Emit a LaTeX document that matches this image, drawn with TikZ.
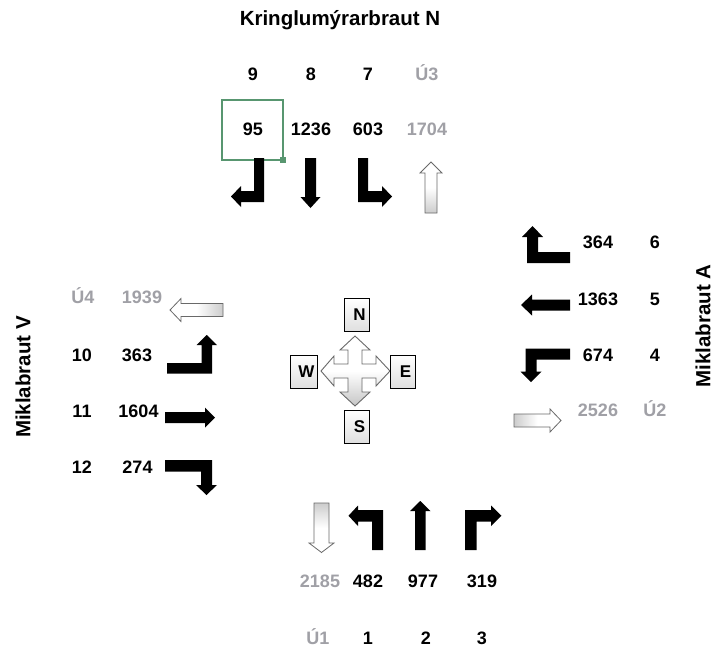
\documentclass[tikz,border=0pt]{standalone}
\usepackage{fontspec}
\setmainfont{Liberation Sans}
\definecolor{dimtext}{RGB}{160,160,166}
\definecolor{selgreen}{RGB}{88,150,112}
\definecolor{outlinegray}{RGB}{105,105,105}
\begin{document}
\begin{tikzpicture}[x=1pt,y=-1pt,
  lbl/.style={font=\bfseries\fontsize{18}{20}\selectfont, anchor=base, inner sep=0pt},
  dim/.style={lbl, text=dimtext},
  road/.style={font=\bfseries\fontsize{20.5}{24}\selectfont, inner sep=0pt},
  solidarrow/.style={fill=black},
  exitarrow/.style={draw=outlinegray, line width=0.8pt, line join=miter},
  compassbox/.style={draw=black, line width=0.9pt, top color=white, bottom color=gray!25},
  compassletter/.style={font=\bfseries\fontsize{17}{20}\selectfont, inner sep=0pt},
]
\useasboundingbox (0,0) rectangle (724,648);
\fill[white] (0,0) rectangle (724,648);

% road names
\node[road, anchor=base] (nameN) at (340,25) {Kringlumýrarbraut N};
\node[road, rotate=90] (nameA) at (703,326) {Miklabraut A};
\node[road, rotate=90] (nameV) at (23,377) {Miklabraut V};

% north approach
\node[lbl] (n9) at (253,80) {9};
\node[lbl] (n8) at (311,80) {8};
\node[lbl] (n7) at (368,80) {7};
\node[dim] (u3) at (427,80) {Ú3};
\node[lbl] (v9) at (253,135) {95};
\node[lbl] (v8) at (311,135) {1236};
\node[lbl] (v7) at (368,135) {603};
\node[dim] (vu3) at (427,135) {1704};
\draw[selgreen, line width=1.4pt] (222,100) rectangle (283,160);
\fill[selgreen] (280,157) rectangle (286,163);

\fill[solidarrow] (254,158) -- (264,158) -- (264,202) -- (241,202) -- (241,207)
  -- (231,196.5) -- (241,186) -- (241,191) -- (254,191) -- cycle;
\fill[solidarrow] (305,158) -- (316,158) -- (316,197) -- (320.5,197) -- (310.5,208)
  -- (300.5,197) -- (305,197) -- cycle;
\fill[solidarrow] (358,158) -- (368,158) -- (368,191) -- (382,191) -- (382,186)
  -- (392,196.5) -- (382,207) -- (382,202) -- (358,202) -- cycle;
\draw[exitarrow, bottom color=gray!40, top color=white, middle color=white]
  (425,213) -- (437,213) -- (437,173) -- (442,173) -- (431,162) -- (420,173)
  -- (425,173) -- cycle;

% east approach
\node[lbl] (v6) at (598,248) {364};
\node[lbl] (n6) at (655,248) {6};
\node[lbl] (v5) at (598,305) {1363};
\node[lbl] (n5) at (655,305) {5};
\node[lbl] (v4) at (598,361) {674};
\node[lbl] (n4) at (655,361) {4};
\node[dim] (vu2) at (598,416) {2526};
\node[dim] (u2) at (655,416) {Ú2};

\fill[solidarrow] (570,252) -- (570,263) -- (527,263) -- (527,237) -- (522,237)
  -- (532.5,226) -- (543,237) -- (538,237) -- (538,252) -- cycle;
\fill[solidarrow] (570,299.5) -- (570,310.5) -- (532,310.5) -- (532,315.5)
  -- (521,305) -- (532,294.5) -- (532,299.5) -- cycle;
\fill[solidarrow] (570,348.5) -- (570,359.5) -- (536.5,359.5) -- (536.5,371.5)
  -- (541.5,371.5) -- (531,382) -- (520.5,371.5) -- (525.5,371.5) -- (525.5,348.5) -- cycle;
\draw[exitarrow, left color=gray!40, right color=white, middle color=white]
  (514,414) -- (550,414) -- (550,409) -- (561,420.5) -- (550,432) -- (550,427)
  -- (514,427) -- cycle;

% west approach
\node[dim] (u4) at (83,303) {Ú4};
\node[dim] (vu4) at (142,303) {1939};
\node[lbl] (n10) at (82,361) {10};
\node[lbl] (v10) at (137,361) {363};
\node[lbl] (n11) at (82,417) {11};
\node[lbl] (v11) at (138.5,417) {1604};
\node[lbl] (n12) at (82,473) {12};
\node[lbl] (v12) at (137.5,473) {274};

\draw[exitarrow, right color=gray!40, left color=white, middle color=white]
  (223,303.5) -- (223,316.5) -- (181,316.5) -- (181,321.5) -- (170,310)
  -- (181,298.5) -- (181,303.5) -- cycle;
\fill[solidarrow] (167,363) -- (201.5,363) -- (201.5,345) -- (196.5,345)
  -- (206.75,335) -- (217,345) -- (212,345) -- (212,373.5) -- (167,373.5) -- cycle;
\fill[solidarrow] (165,412) -- (205,412) -- (205,407.5) -- (215,417.5)
  -- (205,427.5) -- (205,423) -- (165,423) -- cycle;
\fill[solidarrow] (165,460) -- (212,460) -- (212,485) -- (217,485) -- (206.5,495)
  -- (196,485) -- (201,485) -- (201,471.5) -- (165,471.5) -- cycle;

% south approach
\node[dim] (vu1) at (320,587) {2185};
\node[lbl] (v1) at (368,587) {482};
\node[lbl] (v2) at (423,587) {977};
\node[lbl] (v3) at (482,587) {319};
\node[dim] (u1) at (318,644) {Ú1};
\node[lbl] (n1) at (368,644) {1};
\node[lbl] (n2) at (426,644) {2};
\node[lbl] (n3) at (482,644) {3};

\draw[exitarrow, top color=gray!40, bottom color=white, middle color=white]
  (314,503) -- (329,503) -- (329,543) -- (334,543) -- (321.5,552.5) -- (309,543)
  -- (314,543) -- cycle;
\fill[solidarrow] (383,550) -- (372,550) -- (372,521.5) -- (358,521.5) -- (358,526)
  -- (348.5,515.75) -- (358,505.5) -- (358,510) -- (383,510) -- cycle;
\fill[solidarrow] (415,550) -- (425.5,550) -- (425.5,511) -- (430.5,511)
  -- (420.25,501) -- (410,511) -- (415,511) -- cycle;
\fill[solidarrow] (465,550) -- (476.5,550) -- (476.5,521.5) -- (491,521.5) -- (491,526)
  -- (501.5,515.75) -- (491,505.5) -- (491,510) -- (465,510) -- cycle;

% compass
\draw[draw=outlinegray, line width=0.9pt, top color=white, bottom color=gray!45, middle color=white, line join=miter]
  (355,336) -- (370,350) -- (362,350) -- (362,364) -- (376,364) -- (376,356)
  -- (390,371) -- (376,386) -- (376,378) -- (362,378) -- (362,392) -- (370,392)
  -- (355,406) -- (340,392) -- (348,392) -- (348,378) -- (334,378) -- (334,386)
  -- (321,371) -- (334,356) -- (334,364) -- (348,364) -- (348,350) -- (340,350) -- cycle;
\node[compassbox, minimum width=25pt, minimum height=33pt, inner sep=0pt] (boxN) at (356.5,315) {};
\node[compassbox, minimum width=27pt, minimum height=33pt, inner sep=0pt] (boxW) at (303.5,371.5) {};
\node[compassbox, minimum width=25pt, minimum height=33pt, inner sep=0pt] (boxE) at (402.5,371.5) {};
\node[compassbox, minimum width=25pt, minimum height=33pt, inner sep=0pt] (boxS) at (356.5,426.5) {};
\node[compassletter] (letN) at ([xshift=3pt]boxN.center) {N};
\node[compassletter] (letW) at ([xshift=3pt]boxW.center) {W};
\node[compassletter] (letE) at ([xshift=3pt]boxE.center) {E};
\node[compassletter] (letS) at ([xshift=3pt]boxS.center) {S};
\end{tikzpicture}
\end{document}
